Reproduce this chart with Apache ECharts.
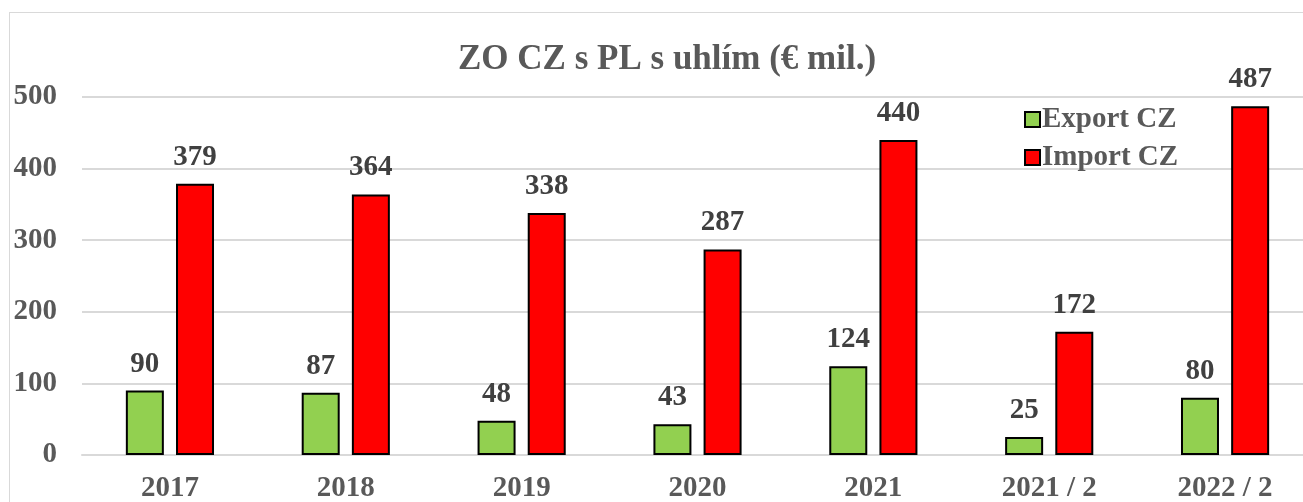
<!DOCTYPE html>
<html>
<head>
<meta charset="utf-8">
<script src="https://cdn.jsdelivr.net/npm/echarts@6/dist/echarts.min.js"></script>
<style>
html, body { margin: 0; padding: 0; background: #fff; }
#chart1 { width: 1303px; height: 502px; }
#frame { position: absolute; left: 9px; top: 12px; width: 1300px; height: 500px; border: 1px solid #d9d9d9; box-sizing: border-box; pointer-events: none; }
</style>
</head>
<body>
<div id="frame"></div>
<div id="chart1"></div>
<script>
var categories = ['2017', '2018', '2019', '2020', '2021', '2021 / 2', '2022 / 2'];
var exportCZ = [90, 87, 48, 43, 124, 25, 80];
var importCZ = [379, 364, 338, 287, 440, 172, 487];
var yTicks = [0, 100, 200, 300, 400, 500];

var font = '"Liberation Serif", "Times New Roman", serif';
var myChart1 = echarts.init(document.getElementById('chart1'));

var labelStyle = {
    show: true,
    position: 'top',
    distance: 12,
    fontFamily: font,
    fontWeight: 'bold',
    fontSize: 29,
    color: '#404040'
};

var option = {
    animation: false,
    title: {
        text: 'ZO CZ s PL s uhlím (€ mil.)',
        left: 453,
        top: 37,
        textStyle: { fontFamily: font, fontWeight: 'bold', fontSize: 35, color: '#595959' }
    },
    legend: {
        orient: 'vertical',
        left: 1019,
        top: 100,
        itemWidth: 15,
        itemHeight: 15,
        itemGap: 9,
        textStyle: { fontFamily: font, fontWeight: 'bold', fontSize: 29, color: '#595959', padding: [0, 0, 0, -3] },
        data: [
            { name: 'Export CZ', icon: 'rect' },
            { name: 'Import CZ', icon: 'rect' }
        ]
    },
    grid: { left: 82, top: 97, width: 1231, height: 358, containLabel: false, outerBoundsMode: 'none' },
    xAxis: {
        type: 'category',
        data: categories,
        axisTick: { show: false },
        axisLine: { show: true, lineStyle: { color: '#d9d9d9', width: 2 } },
        axisLabel: { fontFamily: font, fontWeight: 'bold', fontSize: 29, color: '#595959', margin: 19 }
    },
    yAxis: {
        type: 'value',
        min: yTicks[0],
        max: yTicks[yTicks.length - 1],
        interval: 100,
        axisLine: { show: false },
        axisTick: { show: false },
        splitLine: { lineStyle: { color: '#d9d9d9', width: 2 } },
        axisLabel: { fontFamily: font, fontWeight: 'bold', fontSize: 29, color: '#595959', margin: 25 }
    },
    series: [
        {
            name: 'Export CZ',
            type: 'bar',
            data: exportCZ,
            barWidth: 38,
            barGap: '32%',
            itemStyle: { color: '#92D050', borderColor: '#000', borderWidth: 2 },
            label: labelStyle
        },
        {
            name: 'Import CZ',
            type: 'bar',
            data: importCZ,
            barWidth: 38,
            itemStyle: { color: '#FF0000', borderColor: '#000', borderWidth: 2 },
            label: labelStyle
        }
    ]
};
myChart1.setOption(option);
</script>
</body>
</html>
